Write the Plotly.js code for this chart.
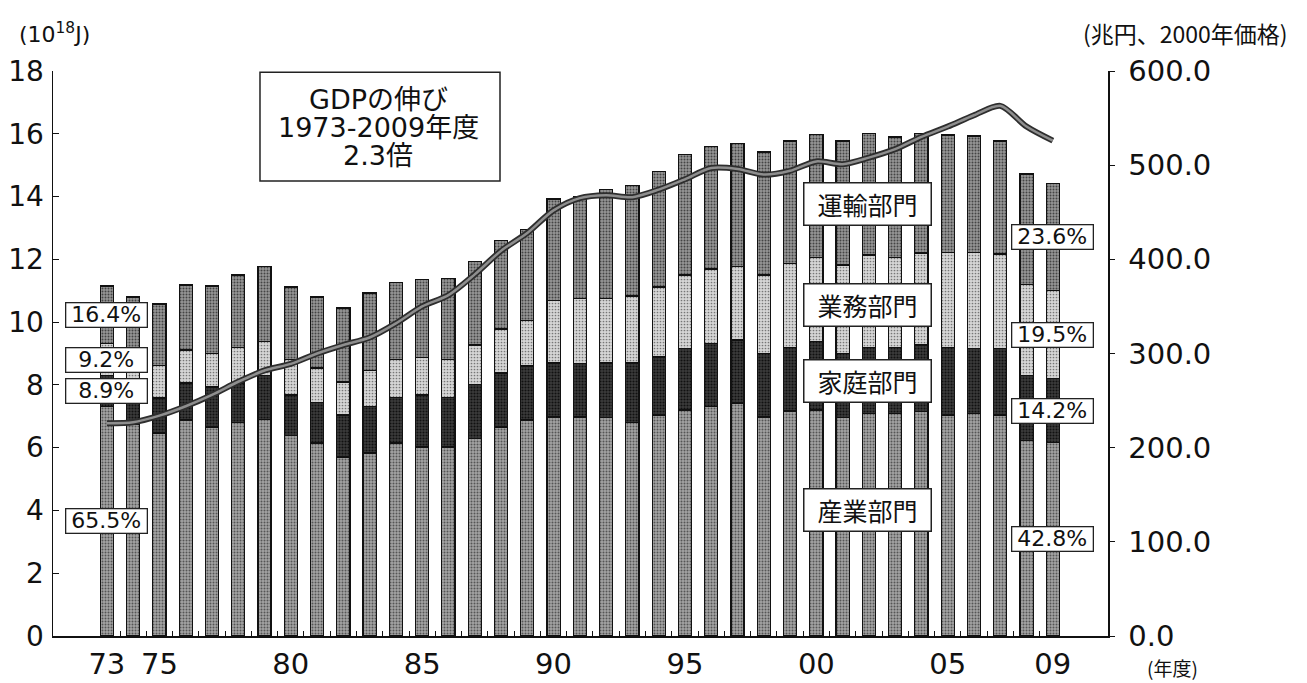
<!DOCTYPE html>
<html>
<head>
<meta charset="utf-8">
<script src="https://cdn.plot.ly/plotly-3.0.1.min.js"></script>
<style>
html,body{margin:0;padding:0;background:#fff;}
#chart{width:1307px;height:683px;}
</style>
</head>
<body>
<div id="chart"></div>
<script>
// Fiscal years
var years = [1973,1974,1975,1976,1977,1978,1979,1980,1981,1982,1983,1984,1985,1986,1987,1988,1989,1990,1991,1992,1993,1994,1995,1996,1997,1998,1999,2000,2001,2002,2003,2004,2005,2006,2007,2008,2009];
var tickYears = [1973,1975,1980,1985,1990,1995,2000,2005,2009];
var tickLabels = ['73','75','80','85','90','95','00','05','09'];

// Final energy consumption by sector (10^18 J)
var industry  = [7.30,6.75,6.47,6.88,6.66,6.79,6.90,6.40,6.15,5.70,5.83,6.15,6.02,6.02,6.30,6.66,6.88,6.98,6.98,6.95,6.80,7.04,7.20,7.30,7.42,6.98,7.17,7.20,6.95,7.10,7.10,7.14,7.04,7.10,7.04,6.24,6.16];
var household = [0.99,1.10,1.11,1.18,1.27,1.27,1.40,1.28,1.30,1.34,1.47,1.45,1.66,1.58,1.70,1.72,1.72,1.72,1.69,1.75,1.90,1.85,1.97,2.03,2.01,2.02,2.03,2.17,2.05,2.10,2.10,2.13,2.16,2.07,2.13,2.07,2.04];
var business  = [1.03,1.05,1.05,1.05,1.07,1.14,1.07,1.12,1.09,1.05,1.17,1.20,1.18,1.22,1.27,1.40,1.44,2.00,2.07,2.04,2.13,2.23,2.33,2.36,2.33,2.50,2.68,2.70,2.82,2.94,2.87,2.93,3.03,3.06,3.00,2.90,2.81];
var transport = [1.83,1.90,1.95,2.07,2.15,2.30,2.39,2.32,2.26,2.36,2.46,2.45,2.51,2.58,2.66,2.82,2.91,3.22,3.26,3.48,3.52,3.68,3.85,3.91,3.94,3.92,3.89,3.90,3.95,3.88,3.83,3.80,3.73,3.70,3.60,3.51,3.40];

// Real GDP (trillion yen, 2000 prices)
var gdp = [226,227,234,244,256,270,282,289,300,309,317,332,350,362,384,409,428,452,465,468,466,474,485,497,496,490,494,504,501,508,517,530,541,553,563,541,526];

// Sector shares (labels)
var sectorNames = ['産業部門','家庭部門','業務部門','運輸部門'];
var shares1973 = ['65.5%','8.9%','9.2%','16.4%'];
var shares2009 = ['42.8%','14.2%','19.5%','23.6%'];
var gdpNoteLines = ['GDPの伸び','1973-2009年度','2.3倍'];

var FONT = 'DejaVu Sans, Noto Sans CJK JP, sans-serif';
var JFONT = 'Noto Sans CJK JP, DejaVu Sans, sans-serif';

function barTrace(vals, name, bg, fg, sol){
  return {
    type:'bar', x: years, y: vals, name: name, width: 0.5,
    marker: {color: bg, line:{color:'#111', width:1.2},
      pattern:{shape:'.', fgcolor: fg, bgcolor: bg, size: 3, solidity: sol}},
    hoverinfo:'skip'
  };
}

var traces = [
  barTrace(industry,  sectorNames[0], '#a4a4a4', '#555', 0.35),
  barTrace(household, sectorNames[1], '#3c3c3c', '#111', 0.4),
  barTrace(business,  sectorNames[2], '#d6d6d6', '#777', 0.25),
  barTrace(transport, sectorNames[3], '#979797', '#444', 0.35),
  {type:'scatter', mode:'lines', x: years, y: gdp, yaxis:'y2',
   line:{color:'#2e2e2e', width:6, shape:'spline', smoothing:0.8}, hoverinfo:'skip'},
  {type:'scatter', mode:'lines', x: years, y: gdp, yaxis:'y2',
   line:{color:'#8e8e8e', width:2.5, shape:'spline', smoothing:0.8}, hoverinfo:'skip'}
];

// segment mid points for share labels
function mids(i){
  var a = industry[i], b = household[i], c = business[i], d = transport[i];
  return [a/2, a + b/2, a + b + c/2, a + b + c + d/2];
}
var annotations = [];
var m1 = mids(0), m2 = mids(years.length-1);
for (var k=0;k<4;k++){
  annotations.push({x: years[0], y: m1[k], xref:'x', yref:'y', xanchor:'center', yanchor:'middle',
    text: shares1973[k], showarrow:false,
    font:{family:FONT, size:22, color:'#111'}, bgcolor:'#fff', bordercolor:'#222', borderwidth:1.3,
    width:80, height:23, borderpad:0});
  annotations.push({x: years[years.length-1], y: m2[k], xref:'x', yref:'y', xanchor:'center', yanchor:'middle',
    text: shares2009[k], showarrow:false,
    font:{family:FONT, size:22, color:'#111'}, bgcolor:'#fff', bordercolor:'#222', borderwidth:1.3,
    width:80, height:23, borderpad:0});
}
// sector name boxes
var sectorY = [0.2230, 0.4513, 0.5858, 0.7646];
for (var s=0;s<4;s++){
  annotations.push({x:0.7716, y: sectorY[s], xref:'paper', yref:'paper', xanchor:'center', yanchor:'middle',
    text: sectorNames[s], showarrow:false,
    font:{family:JFONT, size:25, color:'#111'}, bgcolor:'#fff', bordercolor:'#222', borderwidth:1.5,
    width:126, height:41, borderpad:0});
}
// GDP note, one annotation per line
var noteY = [0.9487, 0.9000, 0.8513];
for (var n=0;n<3;n++){
  annotations.push({x:0.3085, y:noteY[n], xref:'paper', yref:'paper', xanchor:'center', yanchor:'middle',
    text: gdpNoteLines[n], showarrow:false, height:27, valign:'middle',
    font:{family:FONT, size:27, color:'#111'}});
}
// unit labels
annotations.push({x:-0.034, y:1.067, xref:'paper', yref:'paper', xanchor:'left', yanchor:'middle',
  text:'(10<sup>18</sup>J)', showarrow:false, font:{family:FONT, size:22, color:'#111'}});
annotations.push({x:1.1725, y:1.067, xref:'paper', yref:'paper', xanchor:'right', yanchor:'middle',
  text:'(兆円、2000年価格)', showarrow:false, font:{family:JFONT, size:23, color:'#111'}});
annotations.push({x:1.0616, y:-0.055, xref:'paper', yref:'paper', xanchor:'center', yanchor:'middle',
  text:'(年度)', showarrow:false, font:{family:JFONT, size:19, color:'#111'}});

var layout = {
  width:1307, height:683,
  margin:{l:53, r:199, t:71, b:47},
  paper_bgcolor:'#fff', plot_bgcolor:'#fff',
  barmode:'stack', showlegend:false,
  xaxis:{range:[1970.95, 2011.1], tickmode:'array', tickvals: tickYears, ticktext: tickLabels,
    ticks:'', showline:true, linecolor:'#111', linewidth:1.5, showgrid:false, zeroline:false,
    tickfont:{family:FONT, size:29, color:'#111'}, ticklabelstandoff:2,
    minor:{tickmode:'array', tickvals:[1973.5,1974.5,1975.5,1976.5,1977.5,1978.5,1979.5,1980.5,1981.5,1982.5,1983.5,1984.5,1985.5,1986.5,1987.5,1988.5,1989.5,1990.5,1991.5,1992.5,1993.5,1994.5,1995.5,1996.5,1997.5,1998.5,1999.5,2000.5,2001.5,2002.5,2003.5,2004.5,2005.5,2006.5,2007.5,2008.5],
      ticks:'inside', ticklen:5, tickcolor:'#111', tickwidth:1, showgrid:false}},
  yaxis:{range:[0,18], tickmode:'array', tickvals:[0,2,4,6,8,10,12,14,16,18],
    ticks:'inside', ticklen:6, tickcolor:'#111', showline:true, linecolor:'#111', linewidth:1.5,
    showgrid:false, zeroline:false, tickfont:{family:FONT, size:28, color:'#111'}, ticklabelstandoff:2},
  yaxis2:{range:[0,600], overlaying:'y', side:'right', tickmode:'array', tickvals:[0,100,200,300,400,500,600],
    tickformat:'.1f', ticks:'outside', ticklen:5, tickcolor:'#111', showline:true, linecolor:'#111', linewidth:1.5,
    showgrid:false, zeroline:false, tickfont:{family:FONT, size:29, color:'#111'}, ticklabelstandoff:8},
  shapes:[{type:'rect', xref:'paper', yref:'paper', x0:0.1962, x1:0.4237, y0:0.8053, y1:0.998,
    line:{color:'#222', width:1.5}, fillcolor:'rgba(255,255,255,0)'}],
  annotations: annotations
};

Plotly.newPlot('chart', traces, layout, {staticPlot:true, displayModeBar:false});
</script>
</body>
</html>
